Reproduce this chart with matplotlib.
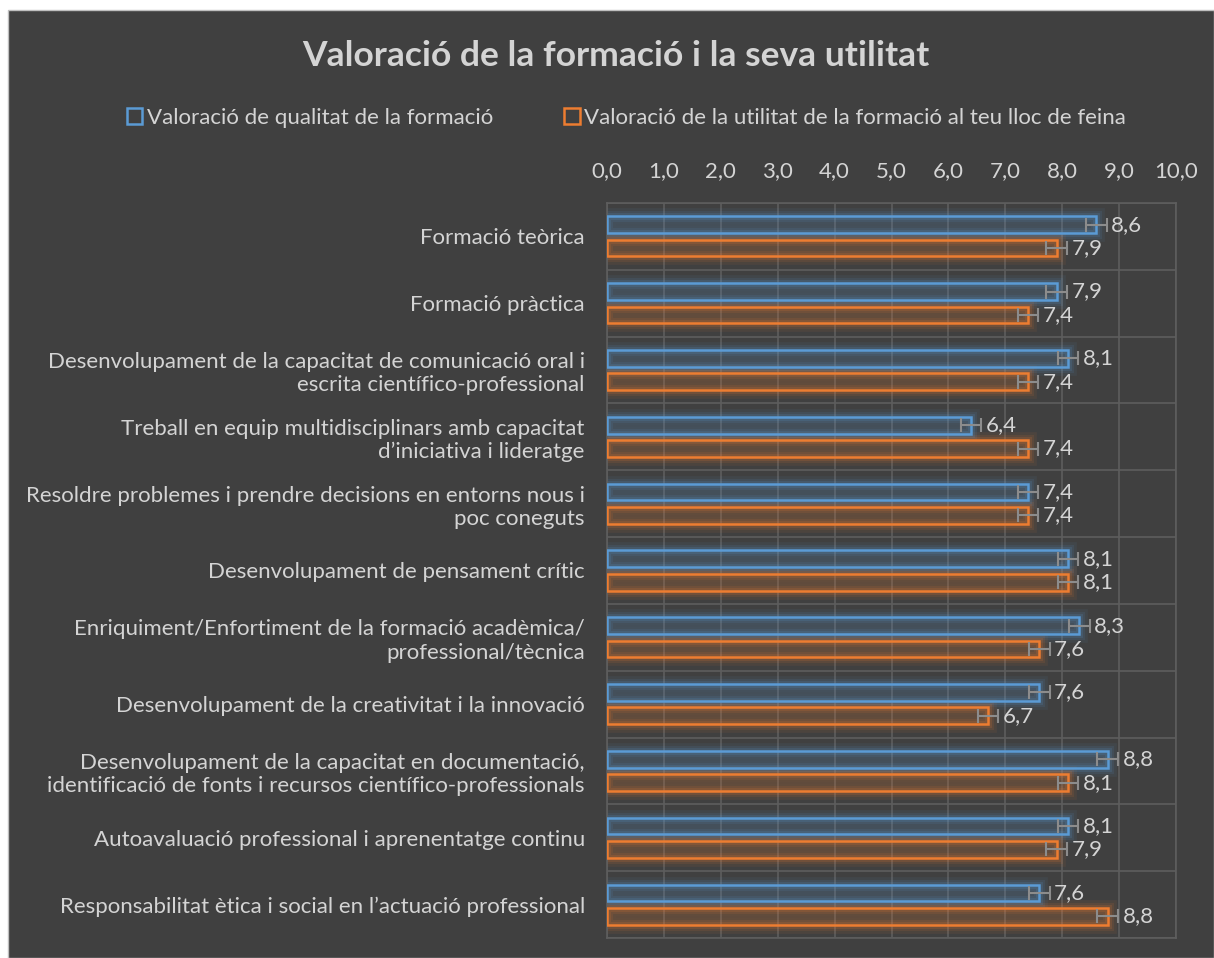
import numpy as np
import matplotlib.pyplot as plt
from matplotlib.patches import Rectangle

plt.rcParams['font.family'] = ['Lato', 'DejaVu Sans']

categories = [
    'Formació teòrica',
    'Formació pràctica',
    'Desenvolupament de la capacitat de comunicació oral i\nescrita científico-professional',
    'Treball en equip multidisciplinars amb capacitat\nd\u2019iniciativa i lideratge',
    'Resoldre problemes i prendre decisions en entorns nous i\npoc coneguts',
    'Desenvolupament de pensament crític',
    'Enriquiment/Enfortiment de la formació acadèmica/\nprofessional/tècnica',
    'Desenvolupament de la creativitat i la innovació',
    'Desenvolupament de la capacitat en documentació,\nidentificació de fonts i recursos científico-professionals',
    'Autoavaluació professional i aprenentatge continu',
    'Responsabilitat ètica i social en l\u2019actuació professional',
]
qualitat = [8.6, 7.9, 8.1, 6.4, 7.4, 8.1, 8.3, 7.6, 8.8, 8.1, 7.6]
utilitat = [7.9, 7.4, 7.4, 7.4, 7.4, 8.1, 7.6, 6.7, 8.1, 7.9, 8.8]
error = 0.18
serie_labels = ['Valoració de qualitat de la formació',
                'Valoració de la utilitat de la formació al teu lloc de feina']

bg = '#404040'
txt = '#D4D4D4'
blue = '#5B9BD5'
orange = '#ED7D31'

fig = plt.figure(figsize=(12.14, 9.58), dpi=100, facecolor='white')
fig.patches.append(Rectangle((8 / 1214, 0), 1 - 8 / 1214, 1 - 10 / 958,
                             transform=fig.transFigure, facecolor=bg,
                             edgecolor='#BFBFBF', linewidth=1, zorder=-10))
ax = fig.add_axes([607 / 1214, 1 - 938 / 958, (1176 - 607) / 1214, (938 - 203) / 958])
ax.set_facecolor(bg)

y = np.arange(len(categories))
off = 0.175
h = 0.25

# soft glow round the bars
for lw, a in [(12, 0.07), (8, 0.1), (5, 0.15)]:
    ax.barh(y - off, qualitat, height=h, color='none', edgecolor=blue,
            linewidth=lw, alpha=a, zorder=2)
    ax.barh(y + off, utilitat, height=h, color='none', edgecolor=orange,
            linewidth=lw, alpha=a, zorder=2)

bars_q = ax.barh(y - off, qualitat, height=h, color=(0.36, 0.61, 0.84, 0.12),
                 edgecolor=blue, linewidth=1.8, label=serie_labels[0], zorder=3)
bars_u = ax.barh(y + off, utilitat, height=h, color=(0.93, 0.49, 0.19, 0.14),
                 edgecolor=orange, linewidth=1.8, label=serie_labels[1], zorder=3)

ax.errorbar(qualitat, y - off, xerr=error, fmt='none', ecolor='#8C8C8C',
            elinewidth=1.5, capsize=5, capthick=1.5, zorder=4)
ax.errorbar(utilitat, y + off, xerr=error, fmt='none', ecolor='#8C8C8C',
            elinewidth=1.5, capsize=5, capthick=1.5, zorder=4)

for yy, v in zip(y - off, qualitat):
    ax.text(v + error + 0.08, yy, f'{v:.1f}'.replace('.', ','), va='center',
            ha='left', color=txt, fontsize=16)
for yy, v in zip(y + off, utilitat):
    ax.text(v + error + 0.08, yy, f'{v:.1f}'.replace('.', ','), va='center',
            ha='left', color=txt, fontsize=16)

ax.set_xlim(0, 10)
ax.set_ylim(len(categories) - 0.5, -0.5)
ax.set_xticks(np.arange(0, 11, 1))
ax.set_xticklabels([f'{v:.1f}'.replace('.', ',') for v in range(11)])
ax.xaxis.tick_top()
ax.set_yticks(y)
ax.set_yticklabels(categories)
ax.set_yticks(np.arange(-0.5, len(categories), 1), minor=True)
ax.tick_params(axis='both', which='both', length=0, colors=txt, labelsize=16)
ax.tick_params(axis='x', pad=16)
ax.tick_params(axis='y', pad=16)
ax.grid(True, axis='x', which='major', color='#5E5E5E', linewidth=1.2)
ax.grid(True, axis='y', which='minor', color='#5E5E5E', linewidth=1.2)
ax.set_axisbelow(True)
for s in ax.spines.values():
    s.set_color('#5E5E5E')
    s.set_linewidth(1.2)

fig.text(0.507, 1 - 56 / 958, 'Valoració de la formació i la seva utilitat',
         ha='center', va='center', color=txt, fontsize=25.5, fontweight='bold')

leg = fig.legend(handles=[bars_q, bars_u], labels=serie_labels,
                 loc='center', bbox_to_anchor=(0.516, 1 - 118 / 958), ncol=2,
                 frameon=False, fontsize=16, handlelength=0.7, handleheight=0.7,
                 handletextpad=0.2, columnspacing=3.2, labelcolor=txt)
for hnd in leg.legend_handles:
    hnd.set_facecolor('none')

fig.savefig('out.png', dpi=100, facecolor=fig.get_facecolor())
